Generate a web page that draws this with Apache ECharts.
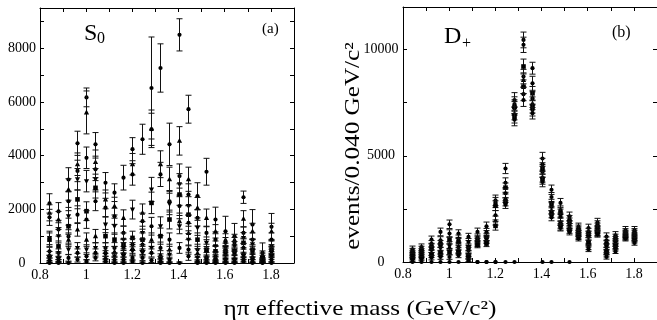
<!DOCTYPE html>
<html><head><meta charset="utf-8">
<script src="https://cdn.jsdelivr.net/npm/echarts@6/dist/echarts.min.js"></script>
<style>html,body{margin:0;padding:0;background:#fff;}#c{width:657px;height:320px;}</style>
</head><body><div id="c"></div>
<script>
// bin centres (GeV/c^2)
const massBins = [0.84,0.88,0.92,0.96,1.00,1.04,1.08,1.12,1.16,1.20,1.24,1.28,1.32,1.36,1.40,1.44,1.48,1.52,1.56,1.60,1.64,1.68,1.72,1.76,1.80];

// panel (a) S0 wave: ten ambiguous solutions
const s0Sol1  = [2220,1920,3110,4460,6170,4420,2990,2620,3180,4240,4610,6520,7265,4420,8500,5730,2490,3400,1620,1180,994,2450,1430,374,1346];
const s0Sol2  = [1870,1620,2740,3680,5610,3760,2370,2120,1680,3680,1870,5000,3680,3120,4550,3120,2060,1680,1180,870,870,1650,1180,300,1180];
const s0Sol3  = [1700,1250,2300,3430,3920,3490,2060,1740,1120,3300,1560,4980,3300,2300,3240,2550,1680,1120,870,750,750,1120,870,250,870];
const s0Sol4  = [935,1000,1740,3120,3050,3120,1430,1370,870,1990,1120,2740,1370,2200,2930,2120,1310,750,620,560,620,935,700,187,620];
const s0Sol5  = [870,620,1370,2370,1930,2800,1000,870,685,935,870,2240,1000,1620,2550,1800,870,500,435,435,435,750,500,125,500];
const s0Sol6  = [435,375,990,1800,1620,2300,560,560,560,685,685,1370,560,870,2120,1500,500,435,250,310,310,560,375,100,434];
const s0Sol7  = [310,250,870,1250,870,1000,430,430,375,560,500,870,310,500,1560,1120,375,250,190,187,187,375,250,60,375];
const s0Sol8  = [190,150,500,560,500,560,310,250,250,435,375,560,150,310,1370,870,190,125,125,125,100,250,125,30,247];
const s0Sol9  = [100,60,190,375,250,375,150,120,125,190,190,375,60,125,560,500,60,60,60,60,60,125,60,15,125];
const s0Sol10 = [0,0,0,125,60,190,60,0,0,60,0,100,0,0,0,250,0,0,0,0,0,60,0,0,0];

const s0Err1  = [360,330,440,450,350,440,380,330,460,430,560,1900,900,790,600,520,500,500,460,560,480,230,560,374,500];
const s0Err2  = [300,300,400,420,800,450,350,330,300,400,330,700,500,450,530,450,380,330,250,220,200,300,300,150,300];
const s0Err3  = [300,250,350,400,400,420,350,300,250,400,300,600,450,400,450,400,300,250,220,200,200,220,250,120,250];
const s0Err4  = [250,250,330,400,400,400,300,300,250,350,250,450,350,400,400,350,280,220,200,180,180,200,200,100,200];
const s0Err5  = [250,200,300,350,350,380,250,250,220,250,250,400,300,350,400,330,250,200,180,160,160,180,180,80,180];
const s0Err6  = [150,150,250,330,330,350,200,200,200,220,220,330,220,250,350,300,200,180,150,140,140,160,150,70,160];
const s0Err7  = [120,120,250,250,250,250,180,180,150,200,180,250,150,200,300,250,160,140,120,120,120,140,120,60,140];
const s0Err8  = [100,100,180,200,180,200,150,130,130,170,150,200,100,150,280,230,120,100,100,100,90,110,100,50,110];
const s0Err9  = [80,60,120,150,130,150,100,90,90,110,100,150,60,90,200,170,60,60,60,60,60,80,60,40,80];
const s0Err10 = [40,40,40,90,60,110,60,40,40,60,40,80,40,40,40,150,40,40,40,40,40,60,40,30,40];

// panel (b) D+ wave: eight solutions
const dpSol1 = [600,700,1050,1415,1775,1336,1180,1415,1680,2900,4400,7620,10450,9120,4870,3400,2780,2150,1650,1600,1855,1200,1260,1490,1490];
const dpSol2 = [500,600,850,1020,1336,1100,943,1150,1400,2800,3730,7435,10220,8410,4600,3060,2440,2000,1570,1415,1750,1020,1150,1400,1400];
const dpSol3 = [420,500,700,850,1020,943,700,1020,1180,2650,3500,7300,9200,7940,4400,2750,2300,1890,1490,1300,1650,850,1050,1336,1336];
const dpSol4 = [350,400,580,700,800,700,550,950,1100,2200,3230,7230,8725,7700,4240,2600,2120,1750,1400,1180,1550,700,950,1300,1250];
const dpSol5 = [280,320,450,550,700,550,390,865,1020,1950,3000,7000,8570,7470,4010,2440,1890,1650,1336,1020,1490,550,865,1260,1180];
const dpSol6 = [200,240,330,390,470,470,300,800,865,1700,2830,6840,8250,7300,3900,2250,1750,1500,1250,900,1400,470,750,1200,1100];
const dpSol7 = [120,150,200,235,235,314,235,0,0,0,2700,6700,7900,7150,3770,2100,1650,1415,1180,700,1350,350,630,1150,1020];
const dpSol8 = [0,0,0,0,0,0,80,0,0,0,0,0,7620,7000,0,0,1600,0,1100,600,1300,235,500,1100,900];

const dpErr1 = [150,150,170,180,200,180,170,180,200,250,240,350,370,280,290,220,210,200,180,180,200,170,170,180,180];
const dpErr2 = [140,140,160,170,180,170,160,170,180,240,230,340,360,330,280,210,200,190,170,170,190,160,160,170,170];
const dpErr3 = [130,130,150,160,170,160,150,160,170,230,220,330,350,320,270,200,190,180,160,160,180,150,150,160,160];
const dpErr4 = [120,120,140,150,160,150,140,150,160,220,210,320,340,310,260,190,180,170,150,150,170,140,140,150,150];
const dpErr5 = [110,110,130,140,150,140,130,140,150,210,200,310,330,300,250,180,170,160,140,140,160,130,130,140,140];
const dpErr6 = [100,100,120,130,140,130,120,130,140,200,190,300,320,290,240,170,160,150,130,130,150,120,120,130,130];
const dpErr7 = [90,90,100,110,110,110,100,0,0,0,180,290,310,280,230,160,150,140,120,120,140,110,110,120,120];
const dpErr8 = [0,0,0,0,0,0,60,0,0,0,0,0,300,270,0,0,140,0,110,110,130,100,100,110,110];

// axis tick labels
const xTickLabels = ['0.8','1','1.2','1.4','1.6','1.8'];
const yTickLabelsA = ['0','2000','4000','6000','8000'];
const yTickLabelsB = ['0','5000','10000'];

const FONT = 'Liberation Serif';

function makeRenderer(shape) {
  return function (params, api) {
    const x = api.value(0), y = api.value(1), e = api.value(2);
    const c = api.coord([x, y]);
    const cx = Math.round(c[0]) + 0.5;
    const cy = c[1];
    const children = [];
    const st = { stroke: '#111', lineWidth: 1 };
    if (e > 0) {
      const top = api.coord([x, y + e])[1];
      const bot = api.coord([x, Math.max(0, y - e)])[1];
      children.push({ type: 'line', shape: { x1: cx, y1: top, x2: cx, y2: bot }, style: st });
      children.push({ type: 'line', shape: { x1: cx - 3, y1: top, x2: cx + 3, y2: top }, style: st });
      children.push({ type: 'line', shape: { x1: cx - 3, y1: bot, x2: cx + 3, y2: bot }, style: st });
    }
    const fill = { fill: '#000' };
    if (shape === 'circle') {
      children.push({ type: 'circle', shape: { cx: cx, cy: cy, r: 2.1 }, style: fill });
    } else if (shape === 'square') {
      children.push({ type: 'rect', shape: { x: cx - 2.3, y: cy - 2.3, width: 4.6, height: 4.6 }, style: fill });
    } else if (shape === 'triangle') {
      children.push({ type: 'polygon', shape: { points: [[cx, cy - 2.8], [cx + 2.6, cy + 2], [cx - 2.6, cy + 2]] }, style: fill });
    } else {
      children.push({ type: 'polygon', shape: { points: [[cx, cy + 2.8], [cx + 2.6, cy - 2], [cx - 2.6, cy - 2]] }, style: fill });
    }
    return { type: 'group', children: children };
  };
}

function buildSeries(vals, errs, shape, xi, yi) {
  return {
    type: 'custom',
    xAxisIndex: xi, yAxisIndex: yi,
    renderItem: makeRenderer(shape),
    encode: { x: 0, y: 1 },
    data: massBins.map((m, i) => [m, vals[i], errs[i]]),
    silent: true,
    animation: false
  };
}

const s0Sets = [
  [s0Sol1, s0Err1, 'circle'], [s0Sol2, s0Err2, 'triangle'], [s0Sol3, s0Err3, 'circle'],
  [s0Sol4, s0Err4, 'invtri'], [s0Sol5, s0Err5, 'square'], [s0Sol6, s0Err6, 'circle'],
  [s0Sol7, s0Err7, 'triangle'], [s0Sol8, s0Err8, 'invtri'], [s0Sol9, s0Err9, 'circle'],
  [s0Sol10, s0Err10, 'circle']
];
const dpSets = [
  [dpSol1, dpErr1, 'circle'], [dpSol2, dpErr2, 'circle'], [dpSol3, dpErr3, 'square'],
  [dpSol4, dpErr4, 'circle'], [dpSol5, dpErr5, 'triangle'], [dpSol6, dpErr6, 'square'],
  [dpSol7, dpErr7, 'circle'], [dpSol8, dpErr8, 'circle']
];

const series = [];
s0Sets.forEach(s => series.push(buildSeries(s[0], s[1], s[2], 0, 0)));
dpSets.forEach(s => series.push(buildSeries(s[0], s[1], s[2], 2, 2)));

const axisLine = { show: true, onZero: false, lineStyle: { color: '#000', width: 1 } };
const tick = { show: true, inside: true, length: 4, lineStyle: { color: '#000', width: 1 } };
const lab = { fontFamily: FONT, fontSize: 14, color: '#000' };

function xFmt(v) {
  const t = Math.round(v * 10);
  const s = String(t / 10);
  return xTickLabels.indexOf(s) >= 0 ? s : '';
}
function yFmtA(v) { const s = String(Math.round(v)); return yTickLabelsA.indexOf(s) >= 0 ? s : ''; }
function yFmtB(v) { const s = String(Math.round(v)); return yTickLabelsB.indexOf(s) >= 0 ? s : ''; }

function xAxes(gi) {
  return [
    { type: 'value', gridIndex: gi, position: 'bottom', min: 0.8, max: 1.9, interval: 0.1,
      axisLine: axisLine, axisTick: tick, splitLine: { show: false },
      axisLabel: Object.assign({ formatter: xFmt, margin: 5, showMaxLabel: false }, lab) },
    { type: 'value', gridIndex: gi, position: 'top', min: 0.8, max: 1.9, interval: 0.1,
      axisLine: axisLine, axisTick: tick, splitLine: { show: false }, axisLabel: { show: false } }
  ];
}
function yAxes(gi, max, interval, fmt, margin) {
  return [
    { type: 'value', gridIndex: gi, position: 'left', min: 0, max: max, interval: interval,
      axisLine: axisLine, axisTick: tick, splitLine: { show: false },
      axisLabel: Object.assign({ formatter: fmt, margin: margin, align: 'center', showMaxLabel: false }, lab) },
    { type: 'value', gridIndex: gi, position: 'right', min: 0, max: max, interval: interval,
      axisLine: axisLine, axisTick: tick, splitLine: { show: false }, axisLabel: { show: false } }
  ];
}

const chart = echarts.init(document.getElementById('c'), null, { renderer: 'canvas' });
chart.setOption({
  animation: false,
  backgroundColor: '#fff',
  grid: [
    { left: 40, top: 8, width: 254, height: 255 },
    { left: 403, top: 7, width: 257, height: 255 }
  ],
  xAxis: xAxes(0).concat(xAxes(1)),
  yAxis: yAxes(0, 9500, 1000, yFmtA, 18).concat(yAxes(1, 12000, 2500, yFmtB, 22)),
  series: series,
  graphic: [
    { type: 'text', left: 84, top: 22, style: { text: 'S', font: '24px "Liberation Serif"', fill: '#000' } },
    { type: 'text', left: 97, top: 31, style: { text: '0', font: '16px "Liberation Serif"', fill: '#000' } },
    { type: 'text', left: 262, top: 22, style: { text: '(a)', font: '15px "Liberation Serif"', fill: '#000' } },
    { type: 'text', left: 444, top: 25, style: { text: 'D', font: '24px "Liberation Serif"', fill: '#000' } },
    { type: 'text', left: 462, top: 36, style: { text: '+', font: '16px "Liberation Serif"', fill: '#000' } },
    { type: 'text', left: 612, top: 25, style: { text: '(b)', font: '16px "Liberation Serif"', fill: '#000' } },
    { type: 'text', x: 360, y: 309, scaleX: 1.2,
      style: { text: 'ηπ effective mass (GeV/c²)', font: '21px "Liberation Serif"', fill: '#000', align: 'center', verticalAlign: 'middle' } },
    { type: 'text', x: 353, y: 146, rotation: Math.PI / 2, scaleX: 1.2,
      style: { text: 'events/0.040 GeV/c²', font: '21px "Liberation Serif"', fill: '#000', align: 'center', verticalAlign: 'middle' } }
  ]
});
</script>
</body></html>
